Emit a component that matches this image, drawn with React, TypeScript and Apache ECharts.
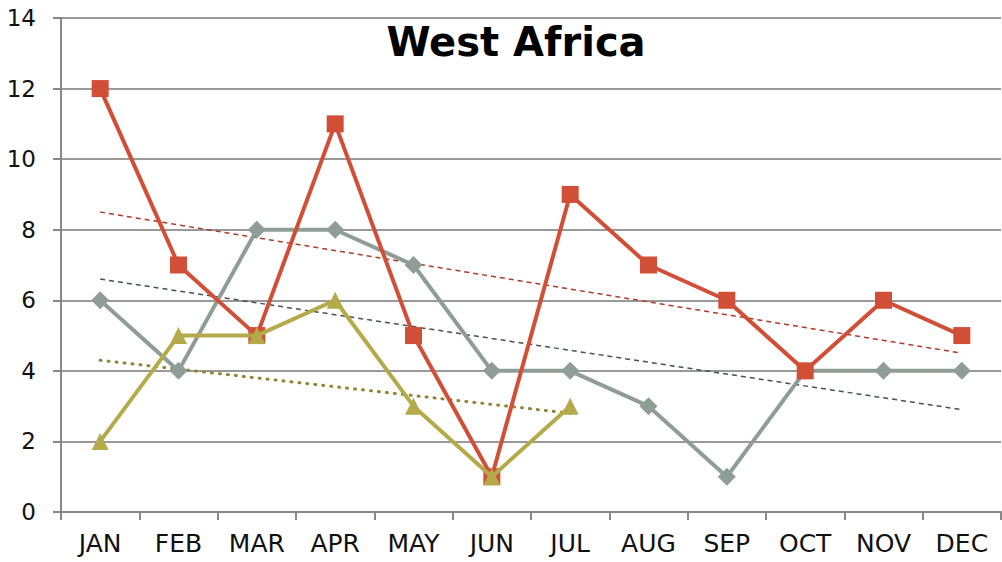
import React, { useEffect, useRef } from "react";
import * as echarts from "echarts";

const months = ["JAN", "FEB", "MAR", "APR", "MAY", "JUN", "JUL", "AUG", "SEP", "OCT", "NOV", "DEC"];
const redValues = [12, 7, 5, 11, 5, 1, 9, 7, 6, 4, 6, 5];
const grayValues = [6, 4, 8, 8, 7, 4, 4, 3, 1, 4, 4, 4];
const oliveValues = [2, 5, 5, 6, 3, 1, 3];
const redTrend = [8.5, null, null, null, null, null, null, null, null, null, null, 4.5];
const grayTrend = [6.6, null, null, null, null, null, null, null, null, null, null, 2.9];
const oliveTrend = [4.3, null, null, null, null, null, 2.8];

const FONT = "'DejaVu Sans', sans-serif";

export default function App() {
  const ref = useRef<HTMLDivElement>(null);
  useEffect(() => {
    if (!ref.current) return;
    const chart = echarts.init(ref.current, null, { renderer: "svg" });
    chart.setOption({
      animation: false,
      backgroundColor: "#ffffff",
      title: {
        text: "West Africa",
        left: 511,
        textAlign: "center",
        top: 17,
        textStyle: { fontFamily: FONT, fontWeight: "bold", fontSize: 40, color: "#000" },
      },
      grid: { left: 61, right: 1, top: 18, bottom: 50, containLabel: false },
      xAxis: {
        type: "category",
        data: months,
        boundaryGap: true,
        axisLine: { lineStyle: { color: "#888", width: 2 } },
        axisTick: { show: true, length: 8, lineStyle: { color: "#888", width: 2 } },
        axisLabel: { fontFamily: FONT, fontSize: 25, color: "#111", margin: 19 },
      },
      yAxis: {
        type: "value",
        min: 0,
        max: 14,
        interval: 2,
        axisLine: { show: true, lineStyle: { color: "#888", width: 2 } },
        axisTick: { show: true, length: 8, lineStyle: { color: "#888", width: 2 } },
        axisLabel: { fontFamily: FONT, fontSize: 23, color: "#111", margin: 25 },
        splitLine: { lineStyle: { color: "#999", width: 2 } },
      },
      series: [
        {
          type: "line",
          data: redTrend,
          connectNulls: true,
          symbol: "none",
          lineStyle: { color: "#B03A28", width: 1.5, type: [5, 4] },
          z: 1,
        },
        {
          type: "line",
          data: grayTrend,
          connectNulls: true,
          symbol: "none",
          lineStyle: { color: "#4A504D", width: 1.5, type: [5, 4] },
          z: 1,
        },
        {
          type: "line",
          data: oliveTrend,
          connectNulls: true,
          symbol: "none",
          lineStyle: { color: "#8F8535", width: 3, type: [1, 7], cap: "round" },
          z: 1,
        },
        {
          type: "line",
          data: grayValues,
          symbol: "diamond",
          symbolSize: 18,
          itemStyle: { color: "#8E9E97" },
          lineStyle: { color: "#8E9E97", width: 4 },
          z: 2,
        },
        {
          type: "line",
          data: redValues,
          symbol: "rect",
          symbolSize: 17,
          itemStyle: { color: "#D14F36" },
          lineStyle: { color: "#D14F36", width: 4 },
          z: 3,
        },
        {
          type: "line",
          data: oliveValues,
          symbol: "triangle",
          symbolSize: 17,
          itemStyle: { color: "#B5AA4A" },
          lineStyle: { color: "#B5AA4A", width: 4 },
          z: 4,
        },
      ],
    });
    return () => chart.dispose();
  }, []);
  return (
    <div
      ref={ref}
      style={{ position: "absolute", left: 0, top: 0, width: 1002, height: 562 }}
    />
  );
}
